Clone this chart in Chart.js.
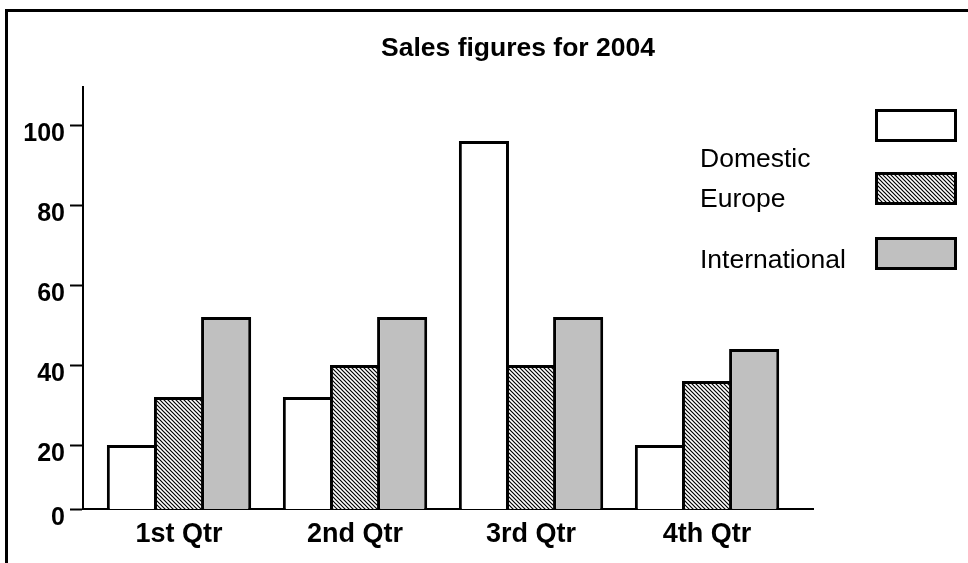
<!DOCTYPE html>
<html>
<head>
<meta charset="utf-8">
<title>Sales figures for 2004</title>
<script src="https://cdn.jsdelivr.net/npm/chart.js@4.4.1/dist/chart.umd.min.js"></script>
<style>
  html, body { margin: 0; padding: 0; background: #fff; }
  canvas { display: block; }
</style>
</head>
<body>
<canvas id="salesChart" width="968" height="563"></canvas>
<script>
// Sales figures for 2004 — grouped bars, hatched middle series
var quarters = ['1st Qtr', '2nd Qtr', '3rd Qtr', '4th Qtr'];
var domestic = [20, 32, 96, 20];
var europe = [32, 40, 40, 36];
var international = [52, 52, 52, 44];

// the original's baseline sits a little above the true zero of its scale,
// but it is still labelled "0"
var yTickValues = [4, 20, 40, 60, 80, 100];
var yTickLabels = ['0', '20', '40', '60', '80', '100'];

(function () {
    'use strict';

    var FONT = "'Liberation Sans', Arial, Helvetica, sans-serif";
    Chart.defaults.font.family = FONT;
    Chart.defaults.color = '#000';

    function hatchPattern(p) {
        var c = document.createElement('canvas');
        c.width = p;
        c.height = p;
        var g = c.getContext('2d');
        g.fillStyle = '#fff';
        g.fillRect(0, 0, p, p);
        g.strokeStyle = '#000';
        g.lineWidth = 1.2;
        g.beginPath();
        g.moveTo(-1, -1); g.lineTo(p + 1, p + 1);
        g.moveTo(-1, p - 1); g.lineTo(1, p + 1);
        g.moveTo(p - 1, -1); g.lineTo(p + 1, 1);
        g.stroke();
        return g.createPattern(c, 'repeat');
    }

    function points(values) {
        return values.map(function (v, i) { return { x: i + 1, y: v }; });
    }

    var series = [
        { label: 'Domestic', values: domestic, fill: '#ffffff' },
        { label: 'Europe', values: europe, fill: hatchPattern(4) },
        { label: 'International', values: international, fill: '#c0c0c0' }
    ];

    var datasets = series.map(function (s) {
        return {
            label: s.label,
            data: points(s.values),
            backgroundColor: s.fill,
            borderColor: '#000',
            borderWidth: 3,
            borderSkipped: false,
            categoryPercentage: 0.803,
            barPercentage: 1.064
        };
    });

    // frame, title and the legend on the right
    var decor = {
        id: 'decor',
        beforeDraw: function (chart) {
            var ctx = chart.ctx;
            ctx.save();
            ctx.fillStyle = '#fff';
            ctx.fillRect(0, 0, chart.width, chart.height);
            ctx.fillStyle = '#000';
            ctx.fillRect(5, 9, 3, chart.height);
            ctx.fillRect(5, 9, chart.width, 3);
            ctx.restore();
        },
        afterDraw: function (chart) {
            var ctx = chart.ctx;
            ctx.save();
            ctx.fillStyle = '#000';
            ctx.font = 'bold 26.5px ' + FONT;
            ctx.textAlign = 'center';
            ctx.textBaseline = 'alphabetic';
            ctx.fillText('Sales figures for 2004', 518, 56);

            var boxTops = [109, 172, 237];
            var textMid = [160, 200, 261];
            ctx.font = '26.5px ' + FONT;
            ctx.textAlign = 'left';
            ctx.textBaseline = 'middle';
            chart.data.datasets.forEach(function (ds, i) {
                ctx.fillStyle = '#000';
                ctx.fillText(ds.label, 700, textMid[i]);
                ctx.fillStyle = ds.backgroundColor;
                ctx.fillRect(875, boxTops[i], 82, 33);
                ctx.strokeStyle = '#000';
                ctx.lineWidth = 3;
                ctx.strokeRect(876.5, boxTops[i] + 1.5, 79, 30);
            });
            ctx.restore();
        }
    };

    var canvas = document.getElementById('salesChart');
    new Chart(canvas.getContext('2d'), {
        type: 'bar',
        data: { datasets: datasets },
        plugins: [decor],
        options: {
            responsive: false,
            animation: false,
            layout: {
                autoPadding: false,
                padding: { left: 0, right: 155, top: 87, bottom: 0 }
            },
            scales: {
                x: {
                    type: 'linear',
                    offset: false,
                    min: 0.4545,
                    max: 4.602,
                    afterBuildTicks: function (scale) {
                        scale.ticks = quarters.map(function (q, i) { return { value: i + 1 }; });
                    },
                    afterFit: function (scale) { scale.height = 54; },
                    ticks: {
                        autoSkip: false,
                        maxRotation: 0,
                        padding: 9,
                        color: '#000',
                        font: { size: 27, weight: 'bold' },
                        callback: function (v) { return quarters[v - 1]; }
                    },
                    grid: { display: false, offset: false, drawTicks: false, tickLength: 0 },
                    border: { display: true, color: '#000', width: 2 }
                },
                y: {
                    min: 4,
                    max: 109.5,
                    afterBuildTicks: function (scale) {
                        scale.ticks = yTickValues.map(function (v) { return { value: v }; });
                    },
                    afterFit: function (scale) { scale.width = 83; },
                    ticks: {
                        padding: 5,
                        labelOffset: 9,
                        color: '#000',
                        font: { size: 25, weight: 'bold' },
                        callback: function (v, i) { return yTickLabels[i]; }
                    },
                    grid: {
                        display: true,
                        drawOnChartArea: false,
                        drawTicks: true,
                        tickLength: 13,
                        tickColor: '#000',
                        tickWidth: 2,
                        color: '#000'
                    },
                    border: { display: true, color: '#000', width: 2 }
                }
            },
            plugins: {
                legend: { display: false },
                title: { display: false },
                tooltip: { enabled: false }
            }
        }
    });
})();
</script>
</body>
</html>
